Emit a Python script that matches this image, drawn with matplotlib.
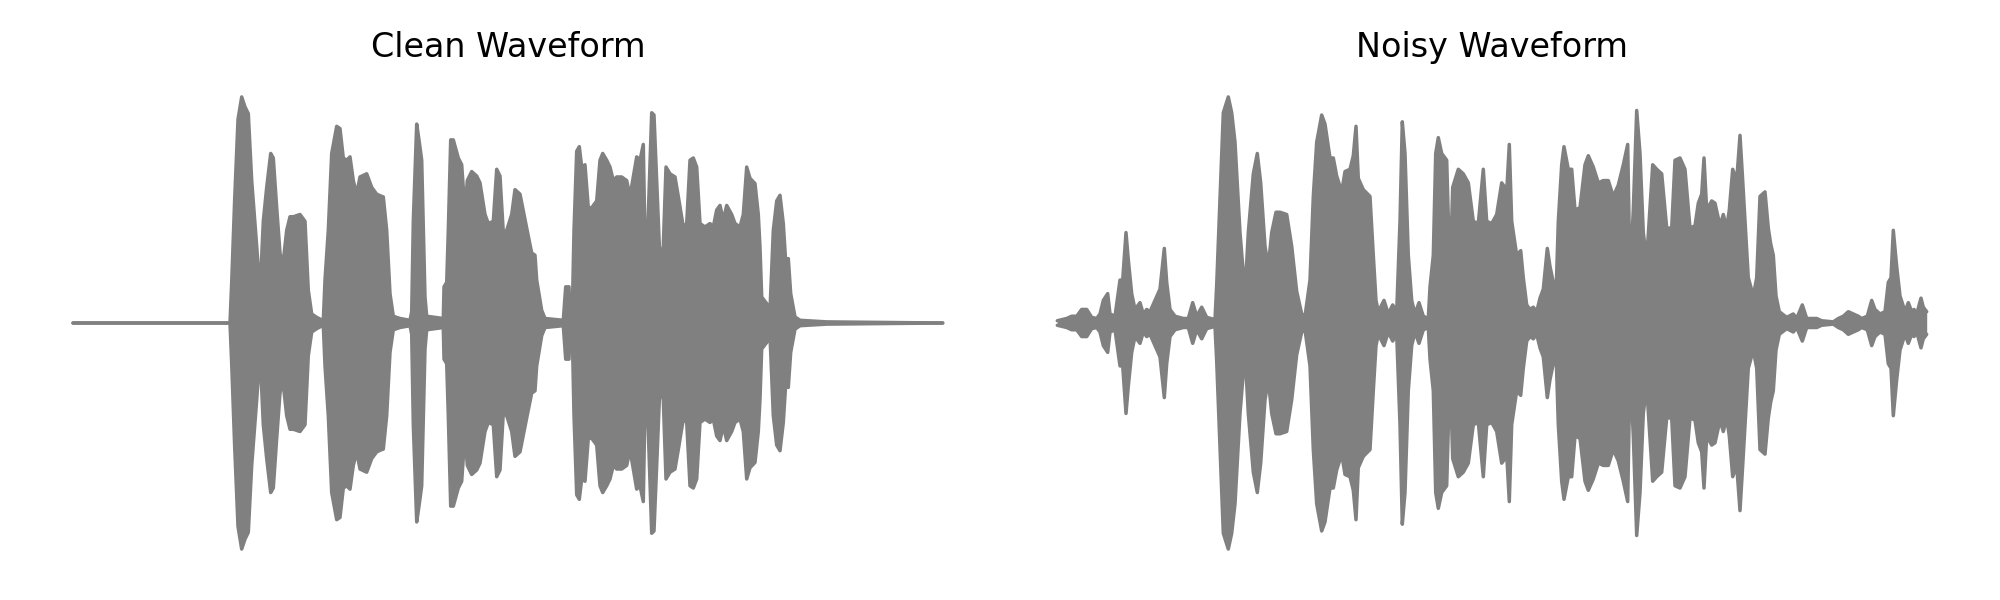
import matplotlib
matplotlib.use("Agg")
import matplotlib.pyplot as plt
import numpy as np

# Time axis in frames (same for both recordings), envelope = peak amplitude (normalised)
clean_t = [0, 157, 158.7, 161.7, 165, 168.7, 172, 175.3, 178.7, 183.7, 187,
           190.3, 193.7, 197.7, 200.3, 203.7, 207, 209.7,
           213.7, 217, 220.3, 227, 232, 235.3, 238.7, 243.7, 250.3,
           252, 255.3, 258.7, 263.7, 267, 270.3, 273.7, 277, 280.3, 283.7, 287, 293.7,
           298.7, 303.7, 308.7, 310.3, 313.7, 317, 320.3, 327, 337, 338.7,
           340.3, 343.7, 346.3, 348.7, 352, 353.7, 370.3, 371, 373.7, 375.3, 377.7,
           380.3, 385.3, 388.7, 391, 392, 393, 394.3, 398.7, 403.7, 407, 412, 415.3,
           420.3, 423.7, 427, 430.3, 433.7, 438.7, 442, 447, 451, 453.7, 458.7, 462,
           463.7, 468.7, 472, 490.3, 492.7, 496, 497, 499.3, 501, 503.7, 506.3, 508.7,
           512, 515.3, 518.7, 523.7, 527, 529.7, 533.7, 537, 540.3, 543.7, 548.7,
           553.7, 557, 563.7, 567, 570.3, 572.7, 575.3, 578.7, 581, 583.7, 587, 590.3,
           593, 597, 602, 605.3, 610.3, 613.7, 617, 620.3, 623.7, 627, 632, 637,
           640.3, 643.7, 647, 650.3, 653.7, 658.7, 662, 667, 670.3, 673.7, 677, 682,
           685.3, 687, 688.7, 693.7, 697, 700.3, 703.7, 707, 710.3, 713, 715.3, 717.7,
           722, 727, 753.7, 869.7]
clean_env = [0, 0, 0.18, 0.55, 0.90, 1.0, 0.956, 0.926, 0.63, 0.34, 0.13,
             0.45, 0.60, 0.75, 0.73, 0.51, 0.31, 0.25,
             0.41, 0.47, 0.47, 0.48, 0.45, 0.145, 0.04, 0.025, 0.01,
             0.19, 0.41, 0.75, 0.87, 0.86, 0.73, 0.72, 0.735, 0.63, 0.57, 0.646, 0.66,
             0.60, 0.57, 0.56, 0.558, 0.41, 0.13, 0.03, 0.02, 0.012, 0.05,
             0.45, 0.88, 0.80, 0.72, 0.115, 0.03, 0.02, 0.16, 0.18, 0.41, 0.81,
             0.81, 0.73, 0.70, 0.55, 0.21, 0.55, 0.63, 0.67, 0.65, 0.62, 0.48, 0.44,
             0.45, 0.68, 0.65, 0.40, 0.41, 0.48, 0.59, 0.57, 0.48, 0.42, 0.31, 0.30,
             0.19, 0.056, 0.02, 0.012, 0.16, 0.16, 0.02, 0.05, 0.41, 0.76, 0.78, 0.69,
             0.70, 0.51, 0.51, 0.54, 0.72, 0.75, 0.72, 0.69, 0.63, 0.646, 0.646,
             0.63, 0.56, 0.735, 0.72, 0.79, 0.19, 0.48, 0.93, 0.92, 0.63, 0.27, 0.34,
             0.69, 0.66, 0.646, 0.56, 0.425, 0.44, 0.72, 0.73, 0.69, 0.44, 0.425, 0.44,
             0.425, 0.50, 0.52, 0.454, 0.52, 0.48, 0.44, 0.425, 0.48, 0.69, 0.64, 0.617,
             0.48, 0.336, 0.115, 0.086, 0.056, 0.41, 0.54, 0.565, 0.44, 0.25, 0.285, 0.13,
             0.027, 0.012, 0.005, 0]

noisy_t = [0.3, 9.7, 14.7, 19.7, 24.7, 29.7, 34.7, 39.7, 43, 46.3, 50.7, 53, 58,
           63, 65.7, 69, 71.3, 74.7, 78, 83, 86.3, 89.7, 93, 98, 103, 107.3, 109.7,
           113, 118, 126.3, 131.3, 135.7, 139.7, 144.7, 149.7, 158, 159.7, 163, 166.3,
           171.3, 174.7, 178, 183, 188, 191.3, 196.3, 200.3, 203.7, 208, 211.3, 214.7,
           219, 223, 229.7, 234.7, 239.7, 244.7, 248, 253, 256.3, 259.7, 264.7, 268,
           273, 276.3, 279.7, 284.7, 288, 293, 296.3, 299, 301.3, 306.3, 313, 316.3,
           319, 321.3, 327, 331.3, 335.7, 339.7, 343, 345.3, 348, 351.3, 354.7, 358,
           362, 366.3, 371.3, 373, 376.3, 378.7, 381.3, 384.7, 389.7, 393, 395.7,
           401.3, 406.3, 411.3, 416.3, 421.3, 426.3, 429.7, 434.7, 439.7, 444.7, 448,
           449.7, 452.3, 454.7, 459.7, 463.7, 466.3, 469.7, 473, 476.3, 479.7, 483,
           486.3, 490.3, 493, 496.3, 498.7, 501.3, 504.7, 507, 511.3, 514.7, 518, 523,
           528, 531.3, 536.3, 541.3, 546.3, 551.3, 556.3, 561.3, 566.3, 570.7, 573,
           576.3, 579.7, 583, 586.3, 589.7, 595.7, 599.7, 604.7, 609.7, 614.7, 618,
           623, 628, 633, 638, 641.3, 644.7, 647, 649.7, 654.7, 658, 663, 666.3, 669.7,
           672.3, 675.7, 679.7, 683, 685.7, 688, 691.3, 696.3, 699.7, 703, 708, 711.3,
           713.7, 716.3, 719, 722.3, 729.7, 736.3, 739.7, 745.3, 749.7, 759.7, 764.7,
           776.3, 781.3, 786.3, 791.3, 796.3, 801.3, 804.7, 810.3, 814.7, 818, 823,
           828, 831.3, 834, 836.3, 839.7, 843, 848, 851.3, 854.7, 857, 859.7, 864,
           866.3, 869.7]
noisy_env = [0.01, 0.02, 0.03, 0.03, 0.06, 0.06, 0.025, 0.02, 0.04, 0.10, 0.13, 0.04, 0.03,
             0.19, 0.19, 0.40, 0.28, 0.13, 0.06, 0.09, 0.04, 0.06, 0.05, 0.10, 0.15, 0.33, 0.18,
             0.06, 0.03, 0.02, 0.02, 0.09, 0.03, 0.07, 0.025, 0.015, 0.17, 0.55, 0.93,
             1.0, 0.93, 0.80, 0.40, 0.13, 0.40, 0.66, 0.75, 0.62, 0.34, 0.25, 0.40,
             0.49, 0.49, 0.48, 0.34, 0.14, 0.04, 0.03, 0.19, 0.56, 0.80, 0.92, 0.88,
             0.73, 0.73, 0.65, 0.58, 0.67, 0.68, 0.74, 0.87, 0.64, 0.59, 0.56, 0.30,
             0.10, 0.05, 0.10, 0.04, 0.08, 0.05, 0.45, 0.89, 0.75, 0.30, 0.10, 0.04,
             0.09, 0.03, 0.02, 0.16, 0.30, 0.75, 0.82, 0.75, 0.72, 0.20, 0.60,
             0.68, 0.66, 0.62, 0.45, 0.44, 0.68, 0.45, 0.44, 0.48, 0.62, 0.60,
             0.58, 0.79, 0.45, 0.30, 0.32, 0.20, 0.08, 0.06, 0.07, 0.05, 0.11,
             0.15, 0.33, 0.25, 0.18, 0.08, 0.45, 0.70, 0.78, 0.68, 0.68, 0.50, 0.51,
             0.70, 0.74, 0.69, 0.62, 0.63, 0.63, 0.56, 0.61, 0.70, 0.79, 0.20,
             0.50, 0.94, 0.75, 0.40, 0.28, 0.70, 0.68, 0.66, 0.42, 0.42, 0.72,
             0.73, 0.68, 0.42, 0.43, 0.53, 0.57, 0.73, 0.50, 0.54, 0.53, 0.43, 0.48, 0.42,
             0.50, 0.68, 0.63, 0.83, 0.63, 0.45, 0.20, 0.12, 0.20, 0.56, 0.58, 0.42,
             0.35, 0.30, 0.12, 0.05, 0.025, 0.04, 0.02, 0.08, 0.02, 0.02, 0.01,
             0.005, 0.02, 0.03, 0.05, 0.04, 0.03, 0.02, 0.03, 0.10, 0.06, 0.04,
             0.05, 0.18, 0.20, 0.41, 0.25, 0.12, 0.05, 0.09, 0.05, 0.06, 0.04, 0.11,
             0.07, 0.05]

titles = ["Clean Waveform", "Noisy Waveform"]
color = "#808080"

W, H = 2000, 600
fig = plt.figure(figsize=(W / 100, H / 100), dpi=100)

panels = [(clean_t, clean_env, 30), (noisy_t, noisy_env, 1014)]
for (t, env, left_px), title in zip(panels, titles):
    ax = fig.add_axes([left_px / W, (H - 571) / H, 956 / W, 496 / H])
    t = np.asarray(t, float)
    env = np.asarray(env, float)
    ax.fill_between(t, -env, env, color=color, linewidth=0)
    for sgn in (1, -1):
        ax.plot(t, sgn * env, color=color, lw=2.5,
                solid_capstyle="round", solid_joinstyle="round")
    ax.set_xlim(-43, 913)
    ax.set_ylim(-1.097, 1.097)
    ax.axis("off")
    cx = (left_px + 478) / W
    fig.text(cx, 1 - 57 / H, title, ha="center", va="baseline", fontsize=24,
             family="DejaVu Sans")

fig.savefig("out.png", dpi=100, facecolor="white")
